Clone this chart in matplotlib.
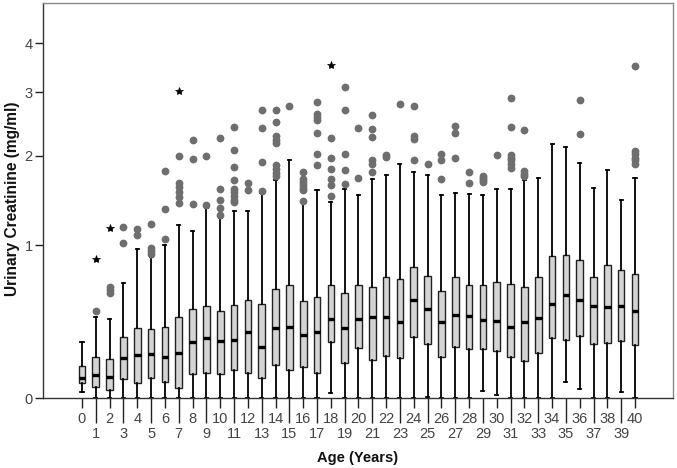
import numpy as np
import matplotlib
matplotlib.use("Agg")
import matplotlib.pyplot as plt
from matplotlib.ticker import NullLocator

plt.rcParams['font.family'] = ['Liberation Sans', 'DejaVu Sans']

ages = list(range(41))
whislo = [0.029, 0, 0, 0, 0, 0, 0, 0, 0, 0,
          0, 0, 0, 0, 0, 0, 0, 0, 0.021, 0,
          0, 0, 0, 0, 0, 0.006, 0, 0, 0, 0.034,
          0.012, 0, 0, 0, 0, 0.074, 0.040, 0, 0, 0.026,
          0]
q1 = [0.069, 0.053, 0.037, 0.090, 0.069, 0.093, 0.075, 0.048, 0.113, 0.118,
      0.113, 0.134, 0.122, 0.097, 0.163, 0.135, 0.151, 0.122, 0.287, 0.170,
      0.254, 0.188, 0.209, 0.200, 0.320, 0.279, 0.202, 0.258, 0.247, 0.249,
      0.235, 0.206, 0.182, 0.224, 0.314, 0.302, 0.322, 0.275, 0.283, 0.298,
      0.269]
med = [0.097, 0.110, 0.100, 0.200, 0.213, 0.221, 0.202, 0.228, 0.290, 0.314,
       0.297, 0.300, 0.346, 0.260, 0.371, 0.377, 0.330, 0.348, 0.430, 0.371,
       0.428, 0.441, 0.441, 0.411, 0.559, 0.497, 0.409, 0.454, 0.450, 0.424,
       0.419, 0.383, 0.409, 0.437, 0.533, 0.599, 0.559, 0.519, 0.508, 0.515,
       0.483]
q3 = [0.158, 0.206, 0.195, 0.320, 0.371, 0.365, 0.381, 0.443, 0.494, 0.515,
      0.481, 0.528, 0.563, 0.535, 0.636, 0.668, 0.554, 0.578, 0.673, 0.607,
      0.666, 0.656, 0.730, 0.717, 0.813, 0.740, 0.626, 0.730, 0.671, 0.666,
      0.694, 0.676, 0.651, 0.730, 0.905, 0.914, 0.871, 0.730, 0.829, 0.785,
      0.756]
whishi = [0.290, 0.445, 0.430, 0.686, 0.964, 0.900, 1.000, 1.196, 1.130, 1.372,
          1.267, 1.333, 1.333, 1.534, 1.684, 1.947, 1.426, 1.565, 1.433, 1.585,
          1.508, 1.700, 1.746, 1.886, 1.787, 1.746, 1.515, 1.538, 1.527, 1.511,
          1.581, 1.581, 1.688, 1.717, 2.169, 2.121, 1.903, 1.596, 1.808, 1.452,
          1.712]
outliers = [
    [],
    [0.481],
    [0.607, 0.631, 0.651],
    [1.024, 1.173],
    [1.099, 1.153],
    [0.920, 0.949, 0.979, 1.206],
    [1.055, 1.357, 1.796],
    [1.422, 1.489, 1.546, 1.604, 1.656, 2.000],
    [1.411, 1.952, 2.217],
    [1.404, 2.000],
    [1.298, 1.372, 1.459, 1.577, 2.251],
    [1.430, 1.459, 1.500, 1.546, 1.577, 1.692, 1.855, 2.075, 2.418],
    [1.573, 1.652],
    [1.557, 1.916, 2.397, 2.685],
    [1.737, 1.775, 1.821, 1.881, 2.178, 2.227, 2.276, 2.501, 2.697],
    [2.753],
    [1.444, 1.565, 1.596, 1.632, 1.664, 1.704, 1.783],
    [1.877, 2.029, 2.326, 2.522, 2.576, 2.630, 2.821],
    [1.496, 1.632, 1.696, 1.830, 1.974, 2.246],
    [1.644, 1.808, 2.029, 2.691, 3.090],
    [1.717, 2.402],
    [1.787, 1.895, 1.939, 2.266, 2.392, 2.603],
    [1.990, 2.015],
    [2.787],
    [1.939, 2.241, 2.276, 2.753],
    [1.886],
    [1.696, 1.947, 2.020],
    [1.970, 2.326, 2.438],
    [1.648, 1.783],
    [1.664, 1.684, 1.712, 1.741],
    [2.015],
    [1.838, 1.895, 1.939, 1.974, 2.010, 2.418, 2.891],
    [1.733, 1.766, 1.800, 2.371],
    [],
    [],
    [],
    [2.311, 2.862],
    [],
    [],
    [],
    [1.895, 1.939, 1.974, 2.020, 2.061, 3.511],
]
extreme_ages = [1, 2, 7, 18]
extreme_vals = [0.882, 1.166, 3.020, 3.532]

y_ticks = [0, 1, 2, 3, 4]


def fwd(y):
    y = np.asarray(y, dtype=float)
    return np.log1p(np.clip(y, -0.99, None))


def inv(y):
    return np.expm1(np.asarray(y, dtype=float))


fig = plt.figure(figsize=(6.77, 4.68), dpi=100)
ax = fig.add_axes([43 / 677, 1 - 398 / 468, 630 / 677, 395 / 468])
ax.set_yscale('function', functions=(fwd, inv))

stats = []
for i, a in enumerate(ages):
    stats.append(dict(med=med[i], q1=q1[i], q3=q3[i], whislo=whislo[i],
                      whishi=whishi[i], fliers=outliers[i], label=str(a)))

ax.bxp(stats, positions=ages, widths=0.48, capwidths=0.22, patch_artist=True,
       boxprops=dict(facecolor='#d4d4d4', edgecolor='#222222', linewidth=1.0),
       medianprops=dict(color='black', linewidth=2.4, solid_capstyle='butt'),
       whiskerprops=dict(color='black', linewidth=1.3),
       capprops=dict(color='black', linewidth=1.3),
       flierprops=dict(marker='o', markerfacecolor='#6e6e6e', markeredgecolor='#6e6e6e',
                       markersize=4.6, linestyle='none'))

ax.plot(extreme_ages, extreme_vals, linestyle='none', marker='*', color='black',
        markersize=6, markeredgewidth=0.5)

ax.set_xlim(-2.82, 42.75)
ax.set_ylim(0, 5)
ax.set_yticks(y_ticks)
ax.set_yticklabels([str(t) for t in y_ticks])
ax.yaxis.set_minor_locator(NullLocator())

evens = [a for a in ages if a % 2 == 0]
odds = [a for a in ages if a % 2 == 1]
ax.set_xticks(evens)
ax.set_xticklabels([str(a) for a in evens])
ax.set_xticks(odds, minor=True)
ax.set_xticklabels([str(a) for a in odds], minor=True)

ax.tick_params(axis='x', which='major', length=7.2, width=1.0, pad=3,
               labelsize=10.5, labelcolor='#444444', color='#222222')
ax.tick_params(axis='x', which='minor', length=18, width=1.0, pad=3,
               labelsize=10.5, labelcolor='#444444', color='#222222')
ax.tick_params(axis='y', which='major', length=5.8, width=1.0, pad=1.5,
               labelsize=10.5, labelcolor='#444444', color='#222222')

for s in ['left', 'bottom']:
    ax.spines[s].set_color('#333333')
    ax.spines[s].set_linewidth(1.0)
for s in ['top', 'right']:
    ax.spines[s].set_color('#8a8a8a')
    ax.spines[s].set_linewidth(1.0)

ax.set_xlabel('Age (Years)', fontsize=10.5, fontweight='bold', color='#111111')
ax.set_ylabel('Urinary Creatinine (mg/ml)', fontsize=11.2, fontweight='bold',
              color='#111111')
ax.xaxis.set_label_coords(0.5, -0.134)
ax.yaxis.set_label_coords(-0.037, 0.505)

fig.savefig('out.png', dpi=100)
